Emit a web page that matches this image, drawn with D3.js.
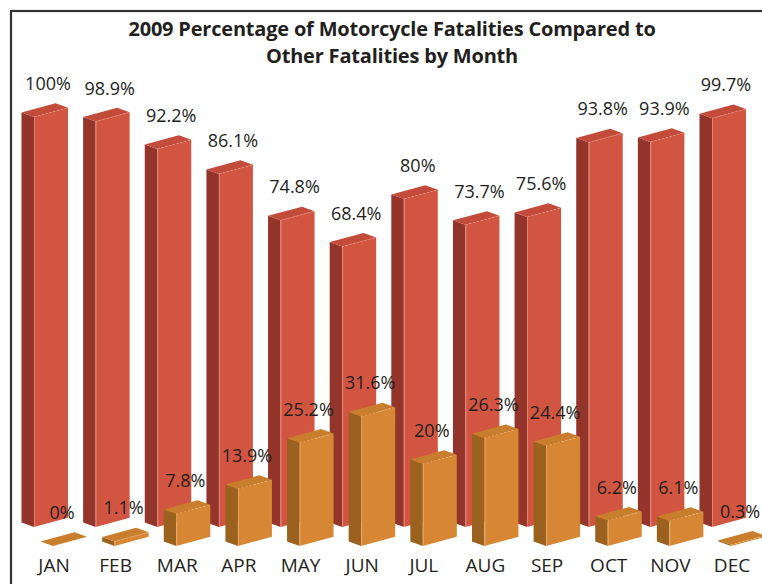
<!DOCTYPE html>
<html>
<head>
<meta charset="utf-8">
<script src="https://cdn.jsdelivr.net/npm/d3@7"></script>
<style>
  body { margin: 0; background: #fff; }
  #chart-area { width: 762px; height: 584px; }
  text { font-family: "Open Sans", "Noto Sans", sans-serif; fill: #231f20; }
</style>
</head>
<body>
<div id="chart-area"></div>
<script>
var months = ["JAN", "FEB", "MAR", "APR", "MAY", "JUN", "JUL", "AUG", "SEP", "OCT", "NOV", "DEC"];
var otherPct = [100, 98.9, 92.2, 86.1, 74.8, 68.4, 80, 73.7, 75.6, 93.8, 93.9, 99.7];
var motoPct = [0, 1.1, 7.8, 13.9, 25.2, 31.6, 20, 26.3, 24.4, 6.2, 6.1, 0.3];
var titleLines = ["2009 Percentage of Motorcycle Fatalities Compared to", "Other Fatalities by Month"];

var width = 762;
var height = 584;

// fake 3d: front width, depth offset, slope of the front face
var W = 34, DX = -12.5, DY = -4.5, S = -0.27;

var svg = d3.select("#chart-area").append("svg")
    .attr("width", width)
    .attr("height", height)
    .attr("viewBox", "0 0 " + width + " " + height);

// frame (only top and left edges fall inside the picture)
svg.append("rect")
    .attr("x", 11)
    .attr("y", 11)
    .attr("width", 800)
    .attr("height", 700)
    .attr("fill", "none")
    .attr("stroke", "#333")
    .attr("stroke-width", 2.2);

svg.selectAll(".title")
    .data(titleLines)
    .enter().append("text")
    .attr("class", "title")
    .attr("x", 392)
    .attr("y", function(d, i) { return 36 + i * 27; })
    .attr("text-anchor", "middle")
    .style("font-size", "20px")
    .style("font-weight", "bold")
    .style("letter-spacing", "-0.2px")
    .text(function(d) { return d; });

// x of the red bars' front-left corner
var x = d3.scalePoint()
    .domain(months)
    .range([34, 712]);

var h = d3.scaleLinear()
    .domain([0, 100])
    .range([0, 410]);

var series = [
  {name: "other", values: otherPct, shift: 0, base: 527, labelDx: -3,
   front: "#d25541", side: "#93352a", top: "#c34b3a", hi: "#eea596"},
  {name: "moto", values: motoPct, shift: 19, base: 546, labelDx: -8,
   front: "#d78733", side: "#9b611f", top: "#c97e2d", hi: "#f2c085"}
];

function pts(arr) {
  return arr.map(function(p) { return p[0] + "," + p[1]; }).join(" ");
}

series.forEach(function(s) {
  var g = svg.append("g").attr("class", "series-" + s.name);

  months.forEach(function(m, i) {
    var x0 = x(m) + s.shift;
    var b = s.base;
    var t = b - h(s.values[i]);
    var bar = g.append("g").attr("class", "bar");

    bar.append("polygon")
        .attr("points", pts([[x0, b], [x0, t], [x0 + DX, t + DY], [x0 + DX, b + DY]]))
        .attr("fill", s.side);
    bar.append("polygon")
        .attr("points", pts([[x0, b], [x0 + W, b + W * S], [x0 + W, t + W * S], [x0, t]]))
        .attr("fill", s.front);
    bar.append("polygon")
        .attr("points", pts([[x0, t], [x0 + W, t + W * S], [x0 + W + DX, t + W * S + DY], [x0 + DX, t + DY]]))
        .attr("fill", s.top);

    // thin highlights on the front edges
    bar.append("line")
        .attr("x1", x0 + 0.5).attr("y1", b)
        .attr("x2", x0 + 0.5).attr("y2", t)
        .attr("stroke", s.hi)
        .attr("stroke-width", 0.8)
        .attr("opacity", 0.7);
    bar.append("line")
        .attr("x1", x0).attr("y1", t)
        .attr("x2", x0 + W).attr("y2", t + W * S)
        .attr("stroke", s.hi)
        .attr("stroke-width", 0.8)
        .attr("stroke-dasharray", "2,2")
        .attr("opacity", 0.7);
  });

  g.selectAll(".label")
      .data(s.values)
      .enter().append("text")
      .attr("class", "label")
      .attr("x", function(d, i) { return x(months[i]) + s.shift + W / 2 + s.labelDx; })
      .attr("y", function(d) { return s.base - h(d) - 27; })
      .attr("text-anchor", "middle")
      .style("font-size", "18px")
      .text(function(d) { return d + "%"; });
});

svg.selectAll(".month")
    .data(months)
    .enter().append("text")
    .attr("class", "month")
    .attr("x", function(d) { return x(d) + 20; })
    .attr("y", 572)
    .attr("text-anchor", "middle")
    .style("font-size", "19px")
    .text(function(d) { return d; });
</script>
</body>
</html>
